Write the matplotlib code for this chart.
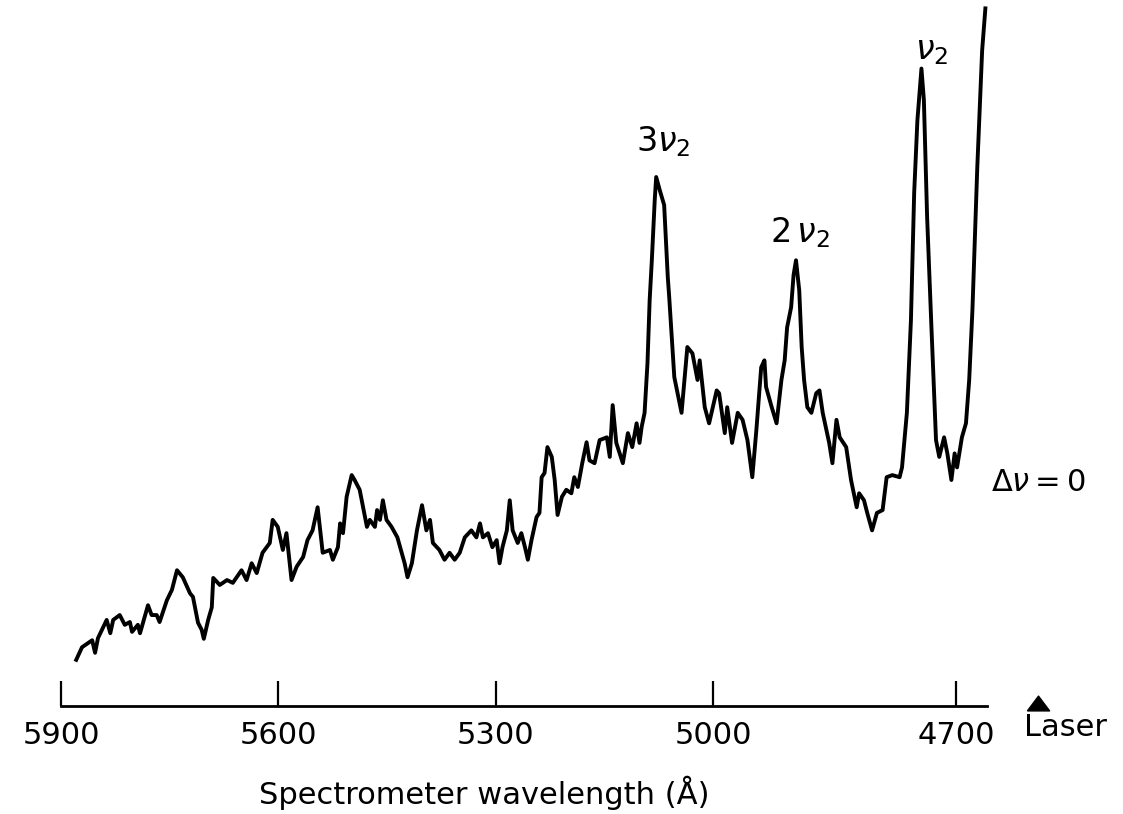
import numpy as np
import matplotlib
matplotlib.use('Agg')
import matplotlib.pyplot as plt
from matplotlib.lines import Line2D

plt.rcParams['font.family'] = 'DejaVu Sans'
plt.rcParams['mathtext.fontset'] = 'dejavusans'

# recorded spectrum: spectrometer wavelength (Angstrom) vs. signal (arb. units)
wavelength = [
    5879, 5871, 5857, 5853, 5849, 5837, 5832, 5828, 5819, 5812,
    5805, 5802, 5794, 5791, 5780, 5775, 5768, 5764, 5754, 5747,
    5740, 5732, 5722, 5718, 5711, 5706, 5703, 5697, 5692, 5690,
    5681, 5671, 5663, 5651, 5644, 5637, 5630, 5622, 5612, 5608,
    5601, 5594, 5589, 5582, 5575, 5566, 5560, 5553, 5546, 5539,
    5529, 5525, 5518, 5515, 5511, 5506, 5499, 5495, 5488, 5478,
    5474, 5467, 5464, 5460, 5456, 5451, 5444, 5436, 5430, 5426,
    5422, 5416, 5409, 5402, 5396, 5391, 5387, 5378, 5371, 5364,
    5357, 5350, 5343, 5334, 5327, 5322, 5318, 5311, 5305, 5299,
    5295, 5291, 5285, 5281, 5277, 5270, 5265, 5260, 5256, 5251,
    5244, 5240, 5237, 5233, 5229, 5223, 5219, 5215, 5209, 5203,
    5196, 5192, 5187, 5181, 5175, 5171, 5164, 5157, 5147, 5143,
    5139, 5134, 5125, 5118, 5112, 5106, 5102, 5099, 5095, 5091,
    5088, 5085, 5081, 5079, 5074, 5068, 5063, 5061, 5054, 5044,
    5036, 5029, 5022, 5019, 5012, 5006, 4996, 4993, 4986, 4983,
    4977, 4970, 4964, 4958, 4952, 4947, 4941, 4937, 4935, 4928,
    4922, 4916, 4912, 4909, 4904, 4901, 4898, 4894, 4891, 4888,
    4884, 4879, 4873, 4869, 4865, 4857, 4853, 4848, 4844, 4836,
    4830, 4823, 4820, 4814, 4810, 4804, 4798, 4791, 4786, 4779,
    4770, 4767, 4761, 4756, 4752, 4748, 4743, 4740, 4736, 4731,
    4727, 4725, 4721, 4715, 4711, 4706, 4702, 4699, 4693, 4688,
    4684, 4680, 4674, 4668, 4664,
]
signal = [
    6.6, 8.4, 9.4, 7.6, 9.7, 12.3, 10.4, 12.3, 13.0, 11.6,
    12.0, 10.6, 11.6, 10.4, 14.4, 13.0, 13.0, 12.0, 15.1, 16.6,
    19.4, 18.4, 16.1, 15.6, 11.9, 10.9, 9.6, 12.3, 14.1, 18.3,
    17.3, 18.0, 17.6, 19.4, 18.0, 20.4, 19.0, 21.9, 23.3, 26.6,
    25.6, 22.3, 24.7, 18.0, 19.9, 21.3, 23.7, 25.1, 28.4, 21.9,
    22.3, 20.9, 22.7, 26.1, 24.7, 29.9, 33.0, 32.3, 30.9, 25.6,
    26.6, 25.6, 28.0, 26.6, 29.4, 26.6, 25.6, 24.1, 21.9, 20.4,
    18.4, 20.4, 25.1, 28.7, 25.1, 26.6, 23.3, 22.3, 20.9, 21.9,
    20.9, 21.9, 24.1, 25.1, 24.1, 26.1, 24.1, 24.7, 22.7, 23.7,
    20.4, 22.7, 25.1, 29.4, 25.1, 23.3, 24.7, 22.7, 20.9, 23.7,
    27.0, 27.6, 32.7, 33.3, 37.0, 35.6, 32.3, 27.3, 29.9, 30.9,
    30.4, 32.7, 31.3, 34.7, 37.7, 35.1, 34.7, 38.0, 38.4, 35.6,
    43.0, 37.6, 34.7, 39.0, 37.0, 40.4, 37.6, 39.9, 41.9, 49.0,
    58.0, 63.7, 72.3, 75.6, 73.7, 71.6, 61.3, 58.4, 47.0, 41.9,
    51.3, 50.4, 46.6, 49.4, 42.7, 40.4, 45.1, 44.7, 39.0, 42.7,
    37.6, 41.9, 40.9, 38.0, 32.7, 39.4, 48.4, 49.4, 45.6, 42.7,
    40.4, 46.6, 49.4, 54.1, 57.0, 61.6, 63.7, 59.4, 51.3, 46.6,
    42.7, 41.9, 44.7, 45.1, 41.9, 37.6, 34.7, 40.9, 38.4, 37.0,
    32.3, 28.4, 30.4, 29.4, 27.6, 25.1, 27.6, 28.0, 32.7, 33.0,
    32.7, 34.1, 41.9, 55.1, 73.3, 83.7, 91.1, 86.6, 69.9, 55.1,
    43.7, 38.0, 35.6, 38.4, 36.1, 32.3, 36.1, 34.1, 38.4, 40.4,
    46.6, 56.6, 77.0, 93.7, 99.7,
]

tick_wavelengths = [5900, 5600, 5300, 5000, 4700]

# dial calibration of the spectrometer drive (not quite linear below 5000 A)
cal_wl = np.array([4000.0, 4700.0, 5000.0, 5900.0, 7000.0])
cal_pos = np.array([-1524.0, -957.0, -714.0, -61.0, 737.1])


def wl_to_pos(w):
    return np.interp(w, cal_wl, cal_pos)


def pos_to_wl(p):
    return np.interp(p, cal_pos, cal_wl)


fig = plt.figure(figsize=(11.23, 8.14), dpi=100)
ax = fig.add_axes([61 / 1123, 108 / 814, 926 / 1123, 706 / 814])
ax.set_xscale('function', functions=(wl_to_pos, pos_to_wl))

ax.plot(wavelength, signal, color='black', lw=2.8, solid_joinstyle='round',
        clip_on=False)

ax.set_xlim(5900, 4662)
ax.set_ylim(0, 100.9)

for side in ['left', 'right', 'top']:
    ax.spines[side].set_visible(False)
ax.spines['bottom'].set_linewidth(2.0)
ax.set_yticks([])
ax.set_xticks(tick_wavelengths)
ax.set_xticklabels([str(t) for t in tick_wavelengths])
ax.xaxis.set_minor_locator(matplotlib.ticker.NullLocator())
ax.tick_params(axis='x', direction='in', length=18, width=1.6, pad=11,
               labelsize=22)

ax.set_xlabel('Spectrometer wavelength (Å)', fontsize=22)
ax.xaxis.set_label_coords(0.457, -0.098)

# peak assignments
ax.text(5069, 80.7, r'$3\nu_2$', fontsize=24, ha='center', va='center')
ax.text(4893, 67.7, r'$2\,\nu_2$', fontsize=24, ha='center', va='center')
ax.text(4731, 93.7, r'$\nu_2$', fontsize=24, ha='center', va='center')
ax.text(4599, 31.9, r'$\Delta\nu=0$', fontsize=22, ha='center', va='center',
        clip_on=False)

# laser line marker
tri = [(-0.75, -0.5), (0.75, -0.5), (0.0, 0.5), (-0.75, -0.5)]
ax.add_line(Line2D([4599], [0.5], marker=tri, markersize=16, color='black',
                   linestyle='none', clip_on=False))
ax.text(4616, -3.1, 'Laser', fontsize=22, ha='left', va='center',
        clip_on=False)

fig.savefig('out.png', dpi=100, facecolor='white')
